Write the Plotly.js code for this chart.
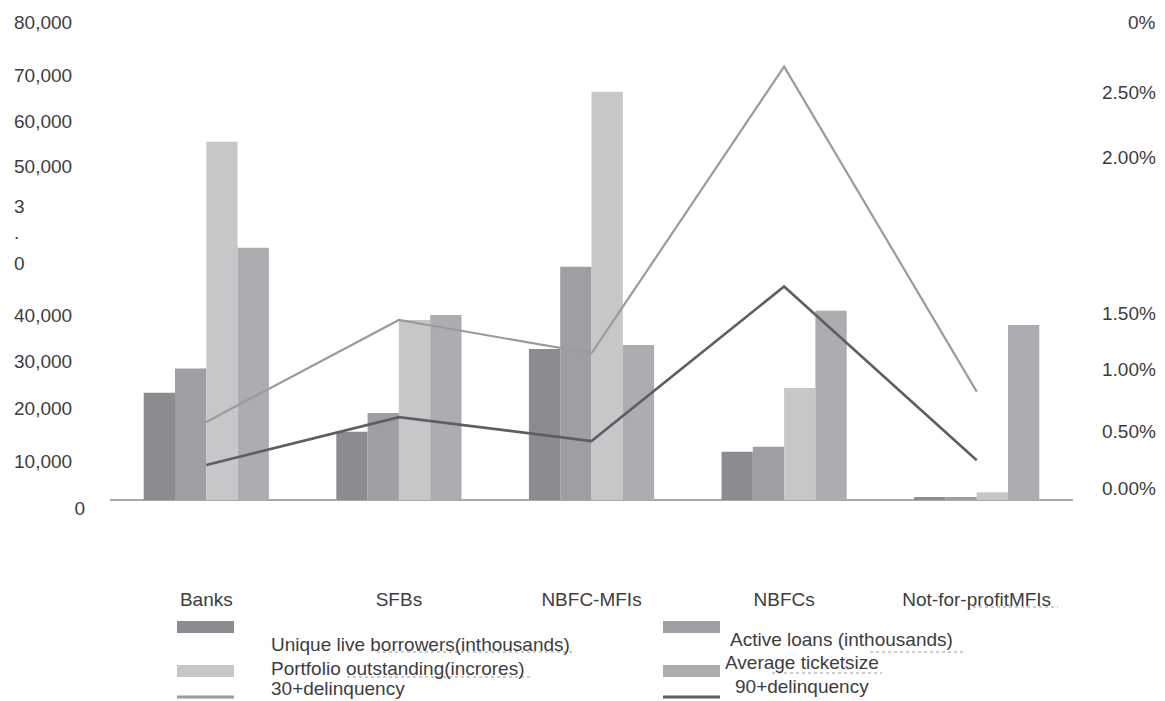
<!DOCTYPE html>
<html>
<head>
<meta charset="utf-8">
<script src="https://cdn.plot.ly/plotly-3.0.1.min.js"></script>
<style>
  html, body { margin: 0; padding: 0; background: #ffffff; }
  #chart { width: 1165px; height: 701px; }
</style>
</head>
<body>
<div id="chart"></div>
<script>
// Microfinance lenders: volumes (left scale) and delinquency (right scale)
const categories = ['Banks', 'SFBs', 'NBFC-MFIs', 'NBFCs', 'Not-for-profitMFIs'];

const uniqueBorrowers      = [17960, 11430, 25270, 8080, 500];
const activeLoans          = [22010, 14560, 39050, 8920, 500];
const portfolioOutstanding = [59970, 30130, 68340, 18750, 1290];
const averageTicketSize    = [42230, 30960, 25940, 31680, 29290];

const delinquency30 = [0.49, 1.13, 0.92, 2.72, 0.68];
const delinquency90 = [0.22, 0.52, 0.37, 1.34, 0.25];

const seriesNames = [
  'Unique live borrowers(inthousands)',
  'Active loans (inthousands)',
  'Portfolio outstanding(incrores)',
  'Average ticketsize',
  '30+delinquency',
  '90+delinquency'
];

// axis label columns as printed beside the plot
const leftTickText = ['80,000', '70,000', '60,000', '50,000', '3', '.', '0', '40,000', '30,000', '20,000', '10,000'];
const leftTickAt   = [80000, 71130, 63310, 55780, 49090, 44690, 39610, 30960, 23150, 15350, 6410];
const rightTickText = ['0%', '2.50%', '2.00%', '1.50%', '1.00%', '0.50%', '0.00%'];
const rightTickAt   = [3.0, 2.56, 2.15, 1.17, 0.82, 0.43, 0.07];

// ---- styling ----
const W = 1165, H = 701;
const M = { l: 110, r: 92, t: 22, b: 191 };
const plotW = W - M.l - M.r, plotH = H - M.t - M.b;
const FONT = '"Liberation Sans", Arial, Helvetica, sans-serif';
const TEXT = '#3d3d3d';
const barColors = ['#8b8c90', '#9e9fa3', '#c6c7c9', '#acadb0'];
const lineColors = ['#9b9b9d', '#5f5f63'];

// pixel -> paper helpers for the hand-laid legend block
const px = x => (x - M.l) / plotW;
const py = y => (M.t + plotH - y) / plotH;

const barSeries = [uniqueBorrowers, activeLoans, portfolioOutstanding, averageTicketSize];
const traces = barSeries.map((vals, i) => ({
  type: 'bar',
  x: categories,
  y: vals,
  name: seriesNames[i],
  marker: { color: barColors[i], line: { width: 0 } },
  yaxis: 'y',
  hoverinfo: 'x+y+name'
}));

[delinquency30, delinquency90].forEach((vals, i) => {
  traces.push({
    type: 'scatter',
    mode: 'lines',
    x: categories,
    y: vals,
    name: seriesNames[4 + i],
    line: { color: lineColors[i], width: i === 0 ? 2.2 : 2.6 },
    yaxis: 'y2'
  });
});

const annotations = [];
leftTickText.forEach((t, i) => {
  annotations.push({
    text: t, showarrow: false,
    xref: 'paper', x: px(12), xanchor: 'left',
    yref: 'y', y: leftTickAt[i], yanchor: 'middle',
    font: { family: FONT, size: 19, color: TEXT }
  });
});
rightTickText.forEach((t, i) => {
  annotations.push({
    text: t, showarrow: false,
    xref: 'paper', x: px(1158), xanchor: 'right',
    yref: 'y2', y: rightTickAt[i], yanchor: 'middle',
    font: { family: FONT, size: 19, color: TEXT }
  });
});

// legend block: swatches, names, and the faint proofing underlines
const legendItems = [
  { kind: 'bar',  color: barColors[0],  sx: 177, sy: 627, tx: 269, ty: 644, name: seriesNames[0] },
  { kind: 'bar',  color: barColors[1],  sx: 663, sy: 627, tx: 728, ty: 639, name: seriesNames[1] },
  { kind: 'bar',  color: barColors[2],  sx: 177, sy: 671, tx: 269, ty: 668, name: seriesNames[2] },
  { kind: 'bar',  color: barColors[3],  sx: 663, sy: 671, tx: 723, ty: 663, name: seriesNames[3] },
  { kind: 'line', color: lineColors[0], sx: 177, sy: 697, tx: 269, ty: 688, name: seriesNames[4] },
  { kind: 'line', color: lineColors[1], sx: 663, sy: 697, tx: 733, ty: 686, name: seriesNames[5] }
];

const shapes = [];
legendItems.forEach(it => {
  if (it.kind === 'bar') {
    shapes.push({
      type: 'rect', xref: 'paper', yref: 'paper',
      x0: px(it.sx), x1: px(it.sx + 57), y0: py(it.sy - 6), y1: py(it.sy + 6),
      fillcolor: it.color, line: { width: 0 }
    });
  } else {
    shapes.push({
      type: 'line', xref: 'paper', yref: 'paper',
      x0: px(it.sx), x1: px(it.sx + 57), y0: py(it.sy), y1: py(it.sy),
      line: { color: it.color, width: 3 }
    });
  }
  annotations.push({
    text: it.name, showarrow: false,
    xref: 'paper', x: px(it.tx), xanchor: 'left',
    yref: 'paper', y: py(it.ty), yanchor: 'middle',
    font: { family: FONT, size: 19, color: TEXT }
  });
});

[[377, 573, 652], [347, 531, 677], [870, 963, 652], [772, 882, 673], [973, 1058, 607]].forEach(([a, b, y]) => {
  shapes.push({
    type: 'line', xref: 'paper', yref: 'paper',
    x0: px(a), x1: px(b), y0: py(y), y1: py(y),
    line: { color: '#bdbdbd', width: 1.5, dash: 'dot' }
  });
});

const layout = {
  width: W, height: H,
  margin: M,
  paper_bgcolor: '#ffffff',
  plot_bgcolor: '#ffffff',
  font: { family: FONT, size: 19, color: TEXT },
  showlegend: false,
  barmode: 'group',
  bargap: 0.35,
  bargroupgap: 0,
  xaxis: {
    type: 'category',
    showgrid: false, showline: false, zeroline: false,
    ticks: '',
    ticklabelstandoff: 76,
    tickfont: { family: FONT, size: 19, color: TEXT }
  },
  yaxis: {
    range: [-1674, 80000],
    showgrid: false, showline: false,
    zeroline: true, zerolinecolor: '#a9a9ab', zerolinewidth: 2,
    tickmode: 'array', tickvals: [0], ticktext: ['0'],
    ticks: '',
    ticklabelstandoff: 24,
    ticklabelshift: 8,
    tickfont: { family: FONT, size: 19, color: TEXT }
  },
  yaxis2: {
    overlaying: 'y', side: 'right',
    range: [-0.0628, 3.0],
    showgrid: false, showline: false, zeroline: false,
    showticklabels: false, ticks: ''
  },
  annotations: annotations,
  shapes: shapes
};

Plotly.newPlot('chart', traces, layout, { displayModeBar: false, staticPlot: true });
</script>
</body>
</html>
